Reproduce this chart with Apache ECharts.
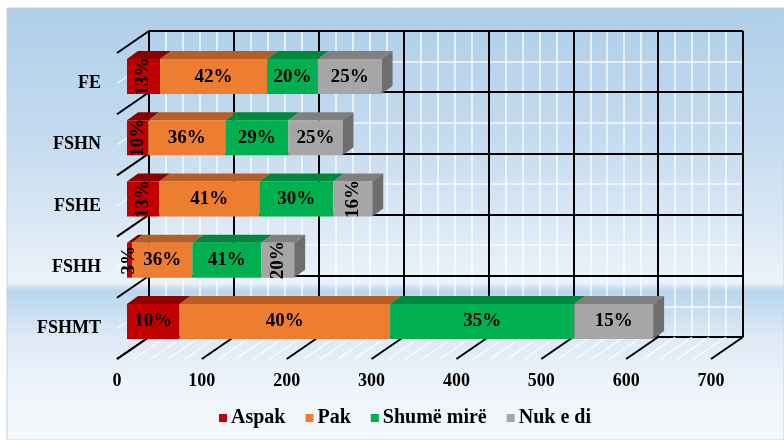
<!DOCTYPE html>
<html>
<head>
<meta charset="utf-8">
<script src="https://cdn.jsdelivr.net/npm/echarts@6/dist/echarts.min.js"></script>
<style>
  html, body { margin: 0; padding: 0; background: #fff; }
  #chart { width: 784px; height: 440px; }
</style>
</head>
<body>
<div id="chart"></div>
<script>
// data (counts); labels show share of each row
const categories = ['FE', 'FSHN', 'FSHE', 'FSHH', 'FSHMT']
const seriesNames = ['Aspak', 'Pak', 'Shumë mirë', 'Nuk e di']
const aspak = [39, 25, 38, 6, 62]
const pak = [126, 91, 118, 71, 248]
const shumeMire = [60, 74, 87, 81, 217]
const nukEDi = [75, 64, 46, 39, 93]
const xMin = 0, xMax = 700, xStep = 100

const frontColors = ['#c00000', '#ed7d31', '#00b050', '#a6a6a6']
const topColors = ['#8c0000', '#b65e24', '#00873d', '#808080']
const sideColor = '#6e6e6e'
const FONT = 'Liberation Serif'

// 3d look
const BOX_DX = -32, BOX_DY = 22   // floor / left wall depth
const CAP_DX = 11, CAP_DY = -8    // bar depth
const BAR_W = 35

const allValues = [aspak, pak, shumeMire, nukEDi]
const totals = categories.map((c, i) => allValues.reduce((s, arr) => s + arr[i], 0))

// cap pieces: [category index, start, end, series index]
const caps = []
categories.forEach((c, i) => {
  let acc = 0
  allValues.forEach((arr, k) => {
    caps.push([i, acc, acc + arr[i], k])
    acc += arr[i]
  })
})

let chart = echarts.init(document.getElementById('chart'))

function barSeries(k) {
  return {
    name: seriesNames[k],
    type: 'bar',
    stack: 'all',
    xAxisIndex: 1,
    yAxisIndex: 2,
    barWidth: BAR_W,
    z: 5,
    itemStyle: { color: frontColors[k] },
    label: {
      show: true,
      position: 'inside',
      color: '#000',
      fontFamily: FONT,
      fontWeight: 'bold',
      fontSize: 19,
      formatter: p => Math.round(p.value / totals[p.dataIndex] * 100) + '%'
    },
    data: allValues[k].map(v => v < 50 ? { value: v, label: { rotate: 90 } } : v)
  }
}

let options = {
  backgroundColor: '#fff',
  animation: false,
  textStyle: { fontFamily: FONT, fontWeight: 'bold', color: '#000' },
  graphic: [{
    type: 'rect',
    z: -10,
    silent: true,
    shape: { x: 7, y: 8, width: 777, height: 432 },
    style: {
      fill: {
        type: 'linear', x: 0, y: 0, x2: 0, y2: 1,
        colorStops: [
          { offset: 0, color: '#afcee9' },
          { offset: 0.3, color: '#c4dbf0' },
          { offset: 0.5, color: '#dbe8f5' },
          { offset: 0.635, color: '#ecf3fa' },
          { offset: 0.655, color: '#b9d5ee' },
          { offset: 0.76, color: '#dde9f5' },
          { offset: 0.88, color: '#eef4fb' },
          { offset: 1, color: '#f4f8fc' }
        ]
      },
      stroke: '#d0d0d0',
      lineWidth: 1
    }
  }],
  legend: {
    data: seriesNames,
    bottom: 7,
    left: 214,
    icon: 'rect',
    itemWidth: 8,
    itemHeight: 8,
    itemGap: 20,
    textStyle: { fontFamily: FONT, fontWeight: 'bold', fontSize: 20, color: '#000', padding: [0, 0, 0, -1] }
  },
  grid: [
    { left: 149, top: 31, width: 594, height: 306 },  // back wall
    { left: 127, top: 46, width: 594, height: 306 },  // bar fronts
    { left: 117, top: 53, width: 594, height: 306 }   // front edge, labels
  ],
  xAxis: [
    {
      gridIndex: 0, type: 'value', min: xMin, max: xMax, interval: xStep, z: 1,
      axisLine: { show: false }, axisTick: { show: false }, axisLabel: { show: false },
      splitLine: { show: true, lineStyle: { color: '#000', width: 2 } },
      minorTick: { show: false, splitNumber: 5 },
      minorSplitLine: { show: true, lineStyle: { color: 'rgba(255,255,255,0.85)', width: 1.5 } }
    },
    { gridIndex: 1, type: 'value', min: xMin, max: xMax, interval: xStep, show: false },
    {
      gridIndex: 2, type: 'value', min: xMin, max: xMax, interval: xStep,
      axisLine: { show: false }, axisTick: { show: false }, splitLine: { show: false },
      axisLabel: { margin: 13, color: '#000', fontFamily: FONT, fontWeight: 'bold', fontSize: 18 }
    }
  ],
  yAxis: [
    {
      gridIndex: 0, type: 'category', data: categories, inverse: true, z: 2,
      axisLine: { show: false }, axisTick: { show: false }, axisLabel: { show: false },
      splitLine: { show: true, interval: 0, lineStyle: { color: '#000', width: 2 } }
    },
    {
      gridIndex: 0, type: 'value', min: 0, max: 10, interval: 1, z: 0,
      axisLine: { show: false }, axisTick: { show: false }, axisLabel: { show: false },
      splitLine: { show: true, lineStyle: { color: 'rgba(255,255,255,0.85)', width: 1.5 } }
    },
    { gridIndex: 1, type: 'category', data: categories, inverse: true, show: false },
    {
      gridIndex: 2, type: 'category', data: categories, inverse: true,
      axisLine: { show: false }, axisTick: { show: false }, splitLine: { show: false },
      axisLabel: { margin: 16, color: '#000', fontFamily: FONT, fontWeight: 'bold', fontSize: 18 }
    }
  ],
  series: [
    {
      // floor and left wall lines
      type: 'custom',
      silent: true,
      xAxisIndex: 0,
      yAxisIndex: 1,
      z: 3,
      data: [[0, 0]],
      renderItem(params, api) {
        let children = []
        for (let v = xMin; v <= xMax; v += xStep / 5) {
          let p = api.coord([v, 0])
          let major = v % xStep === 0
          children.push({
            type: 'line',
            shape: { x1: p[0], y1: p[1], x2: p[0] + BOX_DX, y2: p[1] + BOX_DY },
            style: { stroke: major ? '#000' : 'rgba(255,255,255,0.85)', lineWidth: major ? 2 : 1.2 }
          })
        }
        for (let k = 0; k <= 10; k++) {
          let p = api.coord([xMin, k])
          let major = k % 2 === 0
          children.push({
            type: 'line',
            shape: { x1: p[0], y1: p[1], x2: p[0] + BOX_DX, y2: p[1] + BOX_DY },
            style: { stroke: major ? '#000' : 'rgba(255,255,255,0.85)', lineWidth: major ? 2 : 1.2 }
          })
        }
        return { type: 'group', children }
      }
    },
    {
      // top and side faces of the bars
      type: 'custom',
      silent: true,
      xAxisIndex: 1,
      yAxisIndex: 2,
      z: 4,
      encode: { x: [1, 2], y: 0 },
      data: caps,
      renderItem(params, api) {
        let cat = api.value(0), k = api.value(3)
        let a = api.coord([api.value(1), cat])
        let b = api.coord([api.value(2), cat])
        let top = a[1] - BAR_W / 2, bot = a[1] + BAR_W / 2
        let children = [{
          type: 'polygon',
          shape: { points: [[a[0], top], [b[0], top], [b[0] + CAP_DX, top + CAP_DY], [a[0] + CAP_DX, top + CAP_DY]] },
          style: { fill: topColors[k] }
        }]
        if (k === allValues.length - 1) {
          children.push({
            type: 'polygon',
            shape: { points: [[b[0], top], [b[0] + CAP_DX, top + CAP_DY], [b[0] + CAP_DX, bot + CAP_DY], [b[0], bot]] },
            style: { fill: sideColor }
          })
        }
        return { type: 'group', children }
      }
    },
    barSeries(0),
    barSeries(1),
    barSeries(2),
    barSeries(3)
  ]
}

chart.setOption(options, true)
</script>
</body>
</html>
